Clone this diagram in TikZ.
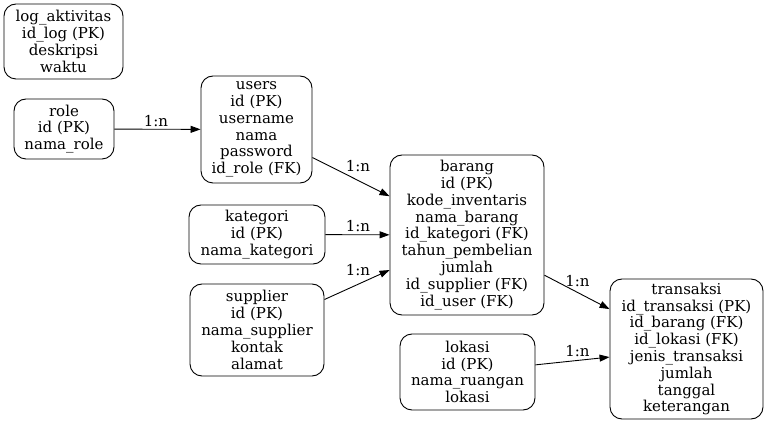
\documentclass[tikz,border=0pt]{standalone}
\usepackage{fontspec}
\setmainfont{DejaVu Serif}
\usetikzlibrary{arrows.meta}
\begin{document}
\begin{tikzpicture}[x=1pt,y=-1pt,
 entity/.style={draw, rounded corners=12pt, align=center, inner sep=0pt, font=\fontsize{15}{16.8}\selectfont, line width=0.9pt},
 rel/.style={-{Triangle[length=10pt,width=7pt]}, line width=0.9pt},
 card/.style={font=\fontsize{15}{16.8}\selectfont, inner sep=0pt}]
\useasboundingbox (0,0) rectangle (768,427);
\node[entity, minimum width=119pt, minimum height=75pt] (log) at (63.5,41.5) {log\_aktivitas\\id\_log (PK)\\deskripsi\\waktu};
\node[entity, minimum width=100pt, minimum height=60pt] (role) at (64,129) {role\\id (PK)\\nama\_role};
\node[entity, minimum width=111pt, minimum height=107pt] (users) at (256.5,129.5) {users\\id (PK)\\username\\nama\\password\\id\_role (FK)};
\node[entity, minimum width=136pt, minimum height=59pt] (kategori) at (257,234.5) {kategori\\id (PK)\\nama\_kategori};
\node[entity, minimum width=134pt, minimum height=92pt] (supplier) at (257,330) {supplier\\id (PK)\\nama\_supplier\\kontak\\alamat};
\node[entity, minimum width=154pt, minimum height=160pt] (barang) at (467,235) {barang\\id (PK)\\kode\_inventaris\\nama\_barang\\id\_kategori (FK)\\tahun\_pembelian\\jumlah\\id\_supplier (FK)\\id\_user (FK)};
\node[entity, minimum width=135pt, minimum height=76pt] (lokasi) at (467.5,372) {lokasi\\id (PK)\\nama\_ruangan\\lokasi};
\node[entity, minimum width=153pt, minimum height=140pt] (transaksi) at (686.5,349) {transaksi\\id\_transaksi (PK)\\id\_barang (FK)\\id\_lokasi (FK)\\jenis\_transaksi\\jumlah\\tanggal\\keterangan};
\draw[rel] (role) -- (users);
\draw[rel] (users) -- (barang);
\draw[rel] (kategori) -- (barang);
\draw[rel] (supplier) -- (barang);
\draw[rel] (barang) -- (transaksi);
\draw[rel] (lokasi) -- (transaksi);
\node[card] (c1) at (156,121) {1:n};
\node[card] (c2) at (358,166) {1:n};
\node[card] (c3) at (358,226) {1:n};
\node[card] (c4) at (358,270) {1:n};
\node[card] (c5) at (577.5,281) {1:n};
\node[card] (c6) at (577.5,351) {1:n};
\end{tikzpicture}
\end{document}
